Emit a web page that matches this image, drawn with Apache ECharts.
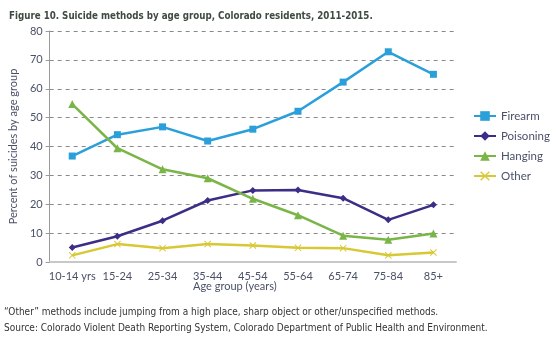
<!DOCTYPE html>
<html><head><meta charset="utf-8">
<script src="https://cdn.jsdelivr.net/npm/echarts@6/dist/echarts.min.js"></script>
<style>html,body{margin:0;padding:0;background:#fff}#c{width:550px;height:342px}</style>
</head><body><div id="c"></div>
<script>
const categories = ['10-14 yrs','15-24','25-34','35-44','45-54','55-64','65-74','75-84','85+'];
const firearm   = [36.7, 44.1, 46.8, 41.9, 46.0, 52.2, 62.3, 72.8, 65.0];
const poisoning = [5.0, 8.9, 14.3, 21.3, 24.8, 24.9, 22.1, 14.6, 19.8];
const hanging   = [54.7, 39.4, 32.1, 29.0, 21.9, 16.2, 9.1, 7.7, 9.9];
const other     = [2.3, 6.2, 4.8, 6.2, 5.7, 4.9, 4.8, 2.3, 3.3];
const yTicks = [0,10,20,30,40,50,60,70,80];

const xShape = 'path://M1,0L5,4L9,0L10,1L6,5L10,9L9,10L5,6L1,10L0,9L4,5L0,1Z';
const txt = '#4a5068';
const chart = echarts.init(document.getElementById('c'));
function s(name, data, color, symbol, size){
  return {name, type:'line', data, symbol, symbolSize:size, showSymbol:true,
    lineStyle:{color, width:2.5}, itemStyle:{color}, emphasis:{disabled:true}};
}
chart.setOption({
  animation:false,
  grid:{left:40, right:94, top:31, bottom:80},
  title:{text:'Figure 10. Suicide methods by age group, Colorado residents, 2011-2015.',
    left:4, top:6, textStyle:{fontFamily:'DejaVu Sans Condensed', fontWeight:'bold', fontSize:9.7, color:'#3f4a40'}},
  legend:{orient:'vertical', left:468, top:105, itemGap:8, itemWidth:22, itemHeight:12,
    textStyle:{fontFamily:'Lato', fontSize:11.5, color:txt},
    data:['Firearm','Poisoning','Hanging','Other']},
  xAxis:{type:'category', data:categories, boundaryGap:true,
    axisLine:{lineStyle:{color:'#c8c8c8', width:2}}, axisTick:{show:false},
    axisLabel:{fontFamily:'Lato', fontSize:11, color:txt, margin:9, interval:0}},
  yAxis:{type:'value', min:yTicks[0], max:yTicks[yTicks.length-1], interval:10,
    axisLine:{show:true, lineStyle:{color:'#9a9a9a', width:1}},
    axisTick:{show:true, length:4, lineStyle:{color:'#9a9a9a'}},
    axisLabel:{fontFamily:'Lato', fontSize:11, color:txt, margin:7},
    splitLine:{lineStyle:{type:[4,4], color:'#8a8a8a', width:1}},
    name:'Percent of suicides by age group', nameLocation:'middle', nameGap:27,
    nameTextStyle:{fontFamily:'Lato', fontSize:11, color:txt}},
  graphic:[
    {type:'text', left:193, top:281, style:{text:'Age group (years)', font:'11px Lato', fill:txt}},
    {type:'text', left:4, top:307, style:{text:'\u201cOther\u201d methods include jumping from a high place, sharp object or other/unspecified methods.', font:'10px "DejaVu Sans Condensed"', fill:'#333'}},
    {type:'text', left:4, top:323, style:{text:'Source: Colorado Violent Death Reporting System, Colorado Department of Public Health and Environment.', font:'10px "DejaVu Sans Condensed"', fill:'#333'}}
  ],
  series:[
    s('Firearm', firearm, '#2b9fd9', 'rect', 7),
    s('Poisoning', poisoning, '#3d2d86', 'diamond', 7),
    s('Hanging', hanging, '#7ab547', 'triangle', 8),
    s('Other', other, '#d8c834', xShape, 7)
  ]
});
</script></body></html>
